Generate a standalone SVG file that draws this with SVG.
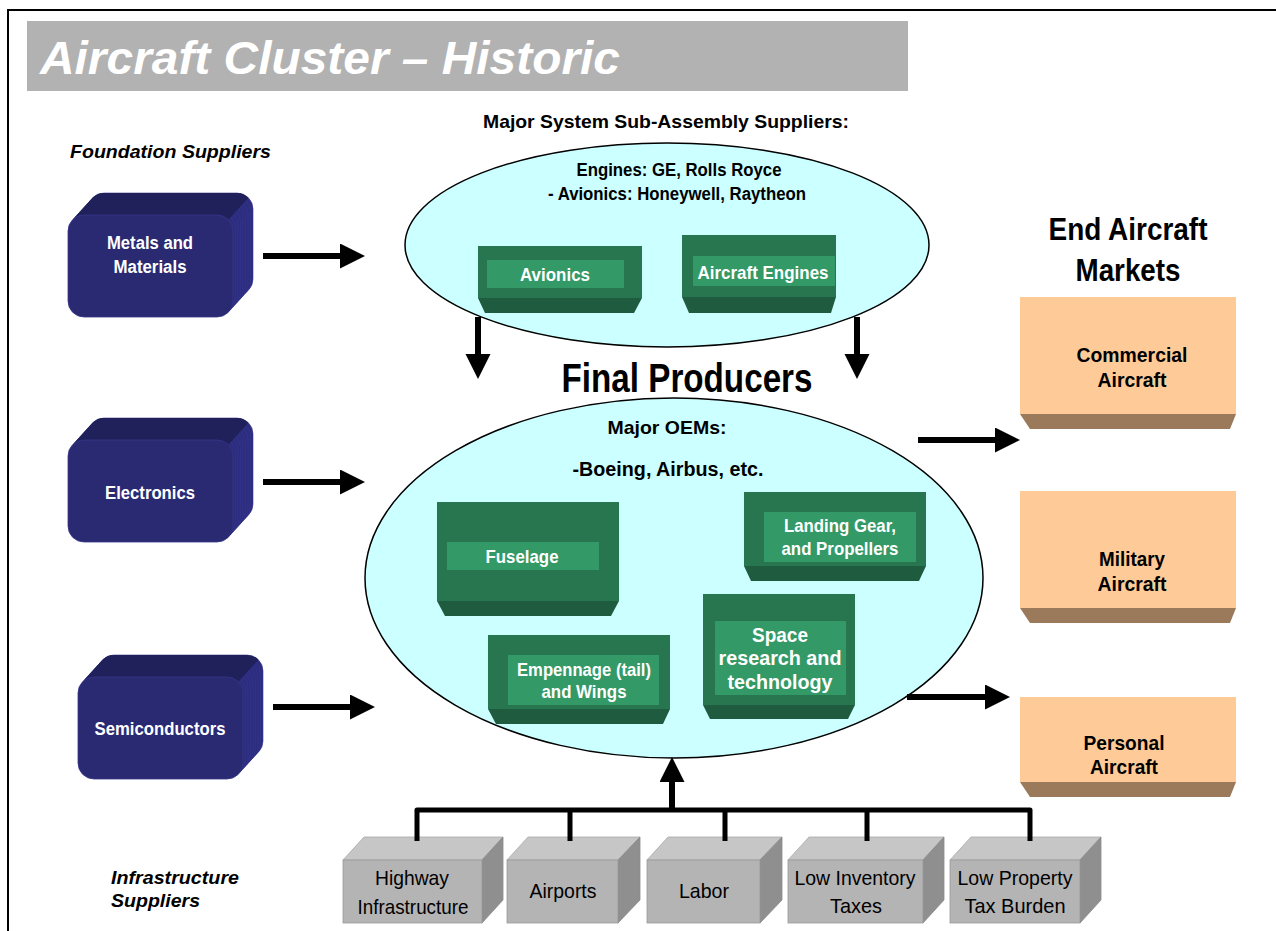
<svg xmlns="http://www.w3.org/2000/svg" xmlns:xlink="http://www.w3.org/1999/xlink" width="1276" height="931" viewBox="0 0 1276 931">
  <style>
    text { font-family: "Liberation Sans", Arial, sans-serif; }
    .b { font-weight: bold; }
    .bi { font-weight: bold; font-style: italic; }
    .w { fill: #ffffff; }
    .k { fill: #000000; }
    .mid { text-anchor: middle; }
    .ell { fill: #ccffff; stroke: #000000; stroke-width: 1.5; }
    .gBody { fill: #277650; }
    .gBevel { fill: #1f5b3e; }
    .gInner { fill: #339966; }
    .pBody { fill: #fecb98; }
    .pBevel { fill: #9b7a5b; }
    .gyTop { fill: #c6c6c6; stroke: #a8a8a8; stroke-width: 0.8; }
    .gyFront { fill: #b4b4b4; stroke: #9a9a9a; stroke-width: 0.8; }
    .gySide { fill: #8f8f8f; stroke: #8a8a8a; stroke-width: 0.8; }
    .stack { fill: #2d2d80; stroke: #35358e; stroke-width: 0.6; }
    .arrow { stroke: #000000; stroke-width: 6; fill: none; }
    .bus { stroke: #000000; stroke-width: 5; fill: none; stroke-linejoin: round; }
  </style>
  <defs>
    <marker id="head" markerUnits="userSpaceOnUse" markerWidth="25" markerHeight="26" refX="0" refY="12.5" orient="auto">
      <path d="M0,0 L25,12.5 L0,25 Z" fill="#000000"/>
    </marker>
    <!-- extruded rounded block used for the foundation suppliers -->
    <g id="blueBox">
      <rect class="stack" x="20" y="0" width="165" height="102" rx="16"/>
      <rect class="stack" x="17.5" y="2.75" width="165" height="102" rx="16"/>
      <rect class="stack" x="15" y="5.5" width="165" height="102" rx="16"/>
      <rect class="stack" x="12.5" y="8.25" width="165" height="102" rx="16"/>
      <rect class="stack" x="10" y="11" width="165" height="102" rx="16"/>
      <rect class="stack" x="7.5" y="13.75" width="165" height="102" rx="16"/>
      <rect class="stack" x="5" y="16.5" width="165" height="102" rx="16"/>
      <rect class="stack" x="2.5" y="19.25" width="165" height="102" rx="16"/>
      <path d="M4.2,27.2 L24.2,5.2 A16,16 0 0 1 36,0 L169,0 A16,16 0 0 1 180.3,4.7 L160.3,26.7 A16,16 0 0 0 149,22 L16,22 A16,16 0 0 0 4.2,27.2 Z" fill="#20205a"/>
      <rect x="0" y="22" width="165" height="102" rx="16" fill="#2a2a73" stroke="#353588" stroke-width="0.8"/>
    </g>
  </defs>

  <rect width="1276" height="931" fill="#ffffff"/>

  <!-- page frame and title bar -->
  <rect x="8" y="10" width="1300" height="1000" fill="none" stroke="#000000" stroke-width="2"/>
  <rect x="27" y="21" width="881" height="70" fill="#b2b2b2"/>
  <text x="40" y="74" class="bi w" font-size="47" textLength="580" lengthAdjust="spacingAndGlyphs">Aircraft Cluster – Historic</text>

  <!-- section labels -->
  <text x="666" y="128" class="b k mid" font-size="19" textLength="366" lengthAdjust="spacingAndGlyphs">Major System Sub-Assembly Suppliers:</text>
  <text x="70" y="158" class="bi k" font-size="19" textLength="201" lengthAdjust="spacingAndGlyphs">Foundation Suppliers</text>
  <text x="687" y="392" class="b k mid" font-size="40" textLength="251" lengthAdjust="spacingAndGlyphs">Final Producers</text>
  <text x="1128" y="240" class="b k mid" font-size="31" textLength="159" lengthAdjust="spacingAndGlyphs">End Aircraft</text>
  <text x="1128" y="281" class="b k mid" font-size="31" textLength="105" lengthAdjust="spacingAndGlyphs">Markets</text>
  <text x="111" y="884" class="bi k" font-size="19" textLength="128" lengthAdjust="spacingAndGlyphs">Infrastructure</text>
  <text x="111" y="907" class="bi k" font-size="19" textLength="89" lengthAdjust="spacingAndGlyphs">Suppliers</text>

  <!-- sub-assembly suppliers -->
  <g id="subAssembly">
    <ellipse class="ell" cx="667" cy="245" rx="262" ry="102"/>
    <text x="679" y="176" class="b k mid" font-size="18" textLength="205" lengthAdjust="spacingAndGlyphs">Engines: GE, Rolls Royce</text>
    <text x="677" y="200" class="b k mid" font-size="18" textLength="258" lengthAdjust="spacingAndGlyphs">- Avionics: Honeywell, Raytheon</text>
  </g>
  <g id="avionics">
    <rect class="gBody" x="478" y="246" width="164" height="52"/>
    <polygon class="gBevel" points="478,298 642,298 634,313 485,313"/>
    <rect class="gInner" x="487" y="260" width="137" height="28"/>
    <text x="555" y="281" class="b w mid" font-size="19" textLength="70" lengthAdjust="spacingAndGlyphs">Avionics</text>
  </g>
  <g id="engines">
    <rect class="gBody" x="682" y="235" width="154" height="62"/>
    <polygon class="gBevel" points="682,297 836,297 831,313 689,313"/>
    <rect class="gInner" x="693" y="256" width="142" height="30"/>
    <text x="763" y="279" class="b w mid" font-size="19" textLength="131" lengthAdjust="spacingAndGlyphs">Aircraft Engines</text>
  </g>

  <!-- final producers -->
  <g id="finalProducers">
    <ellipse class="ell" cx="674" cy="578" rx="309" ry="180"/>
    <text x="667" y="434" class="b k mid" font-size="19" textLength="119" lengthAdjust="spacingAndGlyphs">Major OEMs:</text>
    <text x="668" y="476" class="b k mid" font-size="20" textLength="191" lengthAdjust="spacingAndGlyphs">-Boeing, Airbus, etc.</text>
  </g>
  <g id="fuselage">
    <rect class="gBody" x="437" y="502" width="182" height="99"/>
    <polygon class="gBevel" points="437,601 619,601 611,616 445,616"/>
    <rect class="gInner" x="447" y="542" width="152" height="28"/>
    <text x="522" y="563" class="b w mid" font-size="19" textLength="73" lengthAdjust="spacingAndGlyphs">Fuselage</text>
  </g>
  <g id="landingGear">
    <rect class="gBody" x="744" y="492" width="182" height="74"/>
    <polygon class="gBevel" points="744,566 926,566 919,581 751,581"/>
    <rect class="gInner" x="764" y="512" width="152" height="50"/>
    <text x="840" y="532" class="b w mid" font-size="19" textLength="112" lengthAdjust="spacingAndGlyphs">Landing Gear,</text>
    <text x="840" y="555" class="b w mid" font-size="19" textLength="117" lengthAdjust="spacingAndGlyphs">and Propellers</text>
  </g>
  <g id="empennage">
    <rect class="gBody" x="488" y="635" width="182" height="74"/>
    <polygon class="gBevel" points="488,709 670,709 663,724 496,724"/>
    <rect class="gInner" x="508" y="655" width="151" height="50"/>
    <text x="584" y="676" class="b w mid" font-size="19" textLength="134" lengthAdjust="spacingAndGlyphs">Empennage (tail)</text>
    <text x="584" y="698" class="b w mid" font-size="19" textLength="85" lengthAdjust="spacingAndGlyphs">and Wings</text>
  </g>
  <g id="spaceResearch">
    <rect class="gBody" x="703" y="594" width="152" height="111"/>
    <polygon class="gBevel" points="703,705 855,705 848,719 710,719"/>
    <rect class="gInner" x="715" y="621" width="131" height="74"/>
    <text x="780" y="642" class="b w mid" font-size="21" textLength="56" lengthAdjust="spacingAndGlyphs">Space</text>
    <text x="780" y="665" class="b w mid" font-size="21" textLength="123" lengthAdjust="spacingAndGlyphs">research and</text>
    <text x="780" y="689" class="b w mid" font-size="21" textLength="105" lengthAdjust="spacingAndGlyphs">technology</text>
  </g>

  <!-- foundation suppliers -->
  <g id="metals">
    <use xlink:href="#blueBox" x="68" y="193"/>
    <text x="150" y="249" class="b w mid" font-size="18" textLength="86" lengthAdjust="spacingAndGlyphs">Metals and</text>
    <text x="150" y="273" class="b w mid" font-size="18" textLength="73" lengthAdjust="spacingAndGlyphs">Materials</text>
  </g>
  <g id="electronics">
    <use xlink:href="#blueBox" x="68" y="418"/>
    <text x="150" y="499" class="b w mid" font-size="18" textLength="90" lengthAdjust="spacingAndGlyphs">Electronics</text>
  </g>
  <g id="semiconductors">
    <use xlink:href="#blueBox" x="78" y="655"/>
    <text x="160" y="735" class="b w mid" font-size="18" textLength="131" lengthAdjust="spacingAndGlyphs">Semiconductors</text>
  </g>

  <!-- end markets -->
  <g id="commercial">
    <rect class="pBody" x="1020" y="297" width="216" height="117"/>
    <polygon class="pBevel" points="1020,414 1236,414 1230,429 1030,429"/>
    <text x="1132" y="362" class="b k mid" font-size="21" textLength="111" lengthAdjust="spacingAndGlyphs">Commercial</text>
    <text x="1132" y="387" class="b k mid" font-size="21" textLength="69" lengthAdjust="spacingAndGlyphs">Aircraft</text>
  </g>
  <g id="military">
    <rect class="pBody" x="1020" y="491" width="216" height="117"/>
    <polygon class="pBevel" points="1020,608 1236,608 1230,623 1030,623"/>
    <text x="1132" y="566" class="b k mid" font-size="21" textLength="66" lengthAdjust="spacingAndGlyphs">Military</text>
    <text x="1132" y="591" class="b k mid" font-size="21" textLength="69" lengthAdjust="spacingAndGlyphs">Aircraft</text>
  </g>
  <g id="personal">
    <rect class="pBody" x="1020" y="697" width="216" height="85"/>
    <polygon class="pBevel" points="1020,782 1236,782 1230,797 1030,797"/>
    <text x="1124" y="750" class="b k mid" font-size="21" textLength="81" lengthAdjust="spacingAndGlyphs">Personal</text>
    <text x="1124" y="774" class="b k mid" font-size="21" textLength="68" lengthAdjust="spacingAndGlyphs">Aircraft</text>
  </g>

  <!-- infrastructure suppliers -->
  <g id="highway">
    <polygon class="gyTop" points="343,860 364,837 503,837 482,860"/>
    <polygon class="gySide" points="482,860 503,837 503,900 482,923"/>
    <rect class="gyFront" x="343" y="860" width="139" height="63"/>
    <text x="412" y="885" class="k mid" font-size="21" textLength="74" lengthAdjust="spacingAndGlyphs">Highway</text>
    <text x="413" y="914" class="k mid" font-size="21" textLength="111" lengthAdjust="spacingAndGlyphs">Infrastructure</text>
  </g>
  <g id="airports">
    <polygon class="gyTop" points="507,860 528,837 640,837 618,860"/>
    <polygon class="gySide" points="618,860 640,837 640,900 618,923"/>
    <rect class="gyFront" x="507" y="860" width="111" height="63"/>
    <text x="563" y="898" class="k mid" font-size="21" textLength="67" lengthAdjust="spacingAndGlyphs">Airports</text>
  </g>
  <g id="labor">
    <polygon class="gyTop" points="647,860 668,837 782,837 760,860"/>
    <polygon class="gySide" points="760,860 782,837 782,900 760,923"/>
    <rect class="gyFront" x="647" y="860" width="113" height="63"/>
    <text x="704" y="898" class="k mid" font-size="21" textLength="50" lengthAdjust="spacingAndGlyphs">Labor</text>
  </g>
  <g id="inventoryTaxes">
    <polygon class="gyTop" points="788,860 809,837 944,837 923,860"/>
    <polygon class="gySide" points="923,860 944,837 944,900 923,923"/>
    <rect class="gyFront" x="788" y="860" width="135" height="63"/>
    <text x="855" y="885" class="k mid" font-size="21" textLength="121" lengthAdjust="spacingAndGlyphs">Low Inventory</text>
    <text x="856" y="913" class="k mid" font-size="21" textLength="52" lengthAdjust="spacingAndGlyphs">Taxes</text>
  </g>
  <g id="propertyTax">
    <polygon class="gyTop" points="950,860 971,837 1101,837 1080,860"/>
    <polygon class="gySide" points="1080,860 1101,837 1101,900 1080,923"/>
    <rect class="gyFront" x="950" y="860" width="130" height="63"/>
    <text x="1015" y="885" class="k mid" font-size="21" textLength="115" lengthAdjust="spacingAndGlyphs">Low Property</text>
    <text x="1015" y="913" class="k mid" font-size="21" textLength="101" lengthAdjust="spacingAndGlyphs">Tax Burden</text>
  </g>

  <!-- connectors -->
  <g id="connectors">
    <line class="arrow" x1="263" y1="256" x2="340" y2="256" marker-end="url(#head)"/>
    <line class="arrow" x1="263" y1="482" x2="340" y2="482" marker-end="url(#head)"/>
    <line class="arrow" x1="273" y1="707" x2="350" y2="707" marker-end="url(#head)"/>
    <line class="arrow" x1="478" y1="317" x2="478" y2="354" marker-end="url(#head)"/>
    <line class="arrow" x1="857" y1="317" x2="857" y2="354" marker-end="url(#head)"/>
    <line class="arrow" x1="918" y1="440" x2="995" y2="440" marker-end="url(#head)"/>
    <line class="arrow" x1="907" y1="697" x2="985" y2="697" marker-end="url(#head)"/>
    <line class="arrow" x1="672" y1="811" x2="672" y2="782" marker-end="url(#head)"/>
    <path class="bus" d="M417,841 V810 H1030 V841 M570,810 V841 M725,810 V841 M867,810 V841"/>
  </g>
</svg>
